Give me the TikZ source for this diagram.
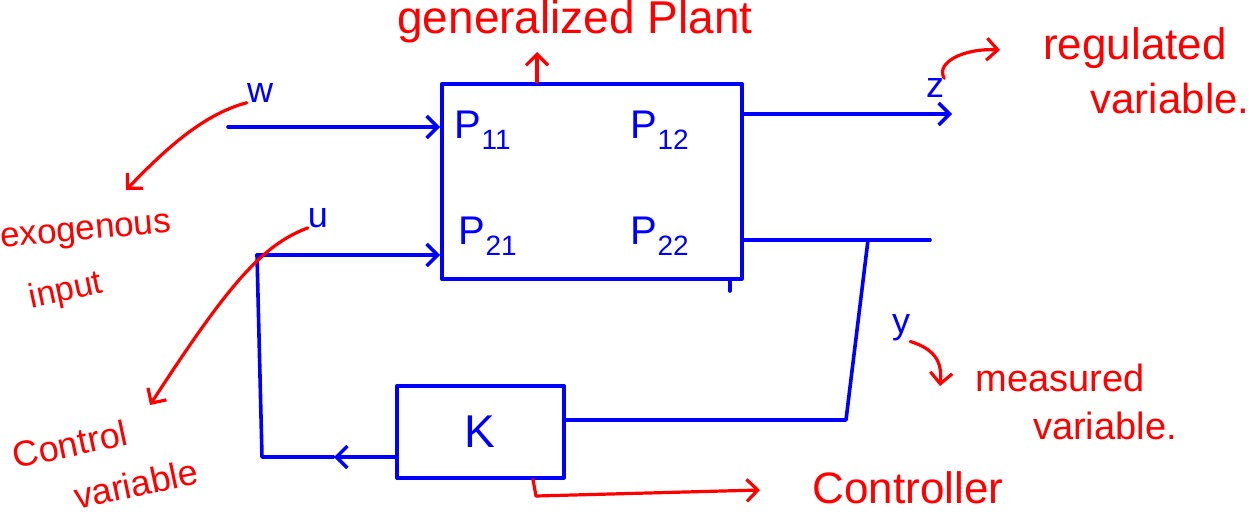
\documentclass[tikz,border=0pt]{standalone}
\usepackage{fontspec}
\setmainfont{Liberation Sans}
\usetikzlibrary{arrows.meta}
\newcommand\fsz[1]{\fontsize{#1}{#1}\selectfont}
\begin{document}
\begin{tikzpicture}[x=1pt,y=-1pt,
  bline/.style={draw=blue, line width=3.6pt, line cap=round, line join=round},
  rline/.style={draw=red, line width=3.2pt, line cap=round, line join=round},
  barrow/.style={-{Straight Barb[length=11pt,width=22pt,line width=3.4pt]}},
  rarrow/.style={-{Straight Barb[length=11pt,width=22pt,line width=3.2pt]}},
  rtxt/.style={text=red, inner sep=0pt},
  btxt/.style={text=blue, inner sep=0pt},
  boxstyle/.style={bline, inner sep=0pt, anchor=north west}]
\useasboundingbox (0,0) rectangle (1260,519);

% plant
\node[boxstyle, minimum width=300pt, minimum height=195pt] (plant) at (440,82) {};
\node[btxt, font=\fsz{40}] (p11) at (483,130) {P\textsubscript{11}};
\node[btxt, font=\fsz{40}] (p12) at (660,130) {P\textsubscript{12}};
\node[btxt, font=\fsz{40}] (p21) at (488,236) {P\textsubscript{21}};
\node[btxt, font=\fsz{40}] (p22) at (660,236) {P\textsubscript{22}};
\coordinate (tick) at (730,291);
\draw[bline] (plant.south east -| tick) -- (tick);

% controller
\node[boxstyle, minimum width=167pt, minimum height=92pt, btxt, font=\fsz{46}] (K) at (395,384) {K};

% inputs
\coordinate (wstart) at (228,127);
\draw[bline, barrow] (wstart) -- (wstart -| plant.west);
\node[btxt, font=\fsz{36}] (w) at (260,93) {w};
\coordinate (ustart) at (257,255);
\draw[bline, barrow] (ustart) -- (ustart -| plant.west);
\node[btxt, font=\fsz{36}] (u) at (318,218) {u};

% outputs
\coordinate (zend) at (952,114);
\draw[bline, barrow] (zend -| plant.east) -- (zend);
\node[btxt, font=\fsz{36}] (z) at (935,88) {z};
\coordinate (ytop) at (868,240);
\coordinate (yend) at (930,240);
\coordinate (ybot) at (846,420);
\draw[bline] (yend -| plant.east) -- (yend);
\draw[bline] (ytop) -- (ybot) -- (ybot -| K.east);
\node[btxt, font=\fsz{36}] (y) at (901,328) {y};

% feedback to u
\coordinate (lb) at (262,457);
\coordinate (mid) at (334,457);
\draw[bline] (ustart) -- (lb) -- (mid);
\draw[bline, barrow] (K.west |- lb) -- (mid);

% red annotations
\node[rtxt, font=\fsz{46}] (gp) at (575,22) {generalized Plant};
\coordinate (gpa) at (537,52);
\draw[rline, rarrow] (plant.north -| gpa) -- (gpa);

\node[rtxt, font=\fsz{35}, rotate=5] (exo) at (86,234) {exogenous};
\node[rtxt, font=\fsz{34}, rotate=12] (inp) at (66,292) {input};
\coordinate (wa) at (126,190);
\draw[rline, rarrow] (w.south west) .. controls (200,115) and (160,155) .. (wa);

\coordinate (ua) at (150,405);
\draw[rline, rarrow] (u.south west) .. controls (262,245) and (228,285) .. (ua);
\node[rtxt, font=\fsz{36}, rotate=12] (ctl) at (70,444) {Control};
\node[rtxt, font=\fsz{36}, rotate=12] (cvar) at (136,484) {variable};

\coordinate (za) at (1000,50);
\draw[rline, rarrow] (z.north east) .. controls (935,62) and (965,48) .. (za);
\node[rtxt, font=\fsz{44}] (reg) at (1135,48) {regulated};
\node[rtxt, font=\fsz{42}] (rvar) at (1170,98) {variable.};

\coordinate (ya) at (940,386);
\draw[rline, rarrow] (y.south east) .. controls (938,350) and (942,365) .. (ya);
\node[rtxt, font=\fsz{38}] (meas) at (1060,378) {measured};
\node[rtxt, font=\fsz{38}] (mvar) at (1105,426) {variable.};

\coordinate (kc) at (536,496);
\coordinate (ka) at (760,490);
\draw[rline] (K.south -| 533,0) -- (kc);
\draw[rline, rarrow] (kc) -- (ka);
\node[rtxt, font=\fsz{44}] (ctrl) at (908,488) {Controller};
\end{tikzpicture}
\end{document}
